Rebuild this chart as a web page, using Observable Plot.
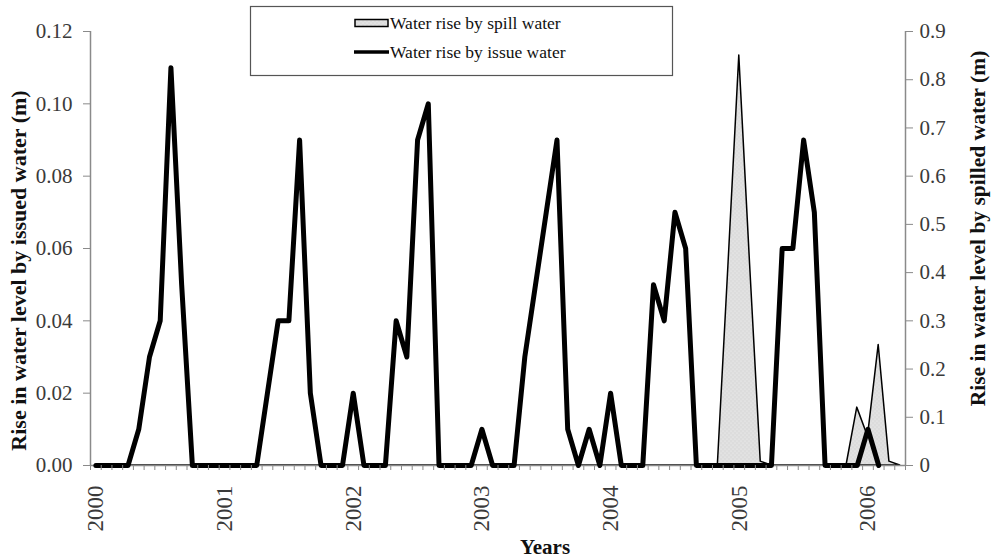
<!DOCTYPE html>
<html><head><meta charset="utf-8">
<script src="https://cdn.jsdelivr.net/npm/d3@7"></script>
<script src="https://cdn.jsdelivr.net/npm/@observablehq/plot@0.6"></script>
<style>body{margin:0;background:#fff} svg{font-family:"Liberation Serif",serif;background:#fff}</style>
</head><body><div id="chart"></div>
<script>
// Monthly data, Jan 2000 .. Apr 2006
const yearLabels = ["2000","2001","2002","2003","2004","2005","2006"];
// Rise in water level by issued water (m), left axis (Jan 2000 .. Feb 2006)
const issue = [
  0,0,0,0,0.01,0.03,0.04,0.11,0.05,0,0,0,
  0,0,0,0,0.02,0.04,0.04,0.09,0.02,0,0,0,
  0.02,0,0,0,0.04,0.03,0.09,0.10,0,0,0,0,
  0.01,0,0,0,0.03,0.05,0.07,0.09,0.01,0,0.01,0,
  0.02,0,0,0,0.05,0.04,0.07,0.06,0,0,0,0,
  0,0,0,0,0.06,0.06,0.09,0.07,0,0,0,0,
  0.01,0
];
// Rise in water level by spilled water (m), right axis (Jan 2000 .. Apr 2006)
const spill = [
  0,0,0,0,0,0,0,0,0,0,0,0,
  0,0,0,0,0,0,0,0,0,0,0,0,
  0,0,0,0,0,0,0,0,0,0,0,0,
  0,0,0,0,0,0,0,0,0,0,0,0,
  0,0,0,0,0,0,0,0,0,0,0,0.42,
  0.85,0.42,0.008,0,0,0,0,0,0,0,0,0.12,
  0.06,0.25,0.008,0
];
const leftTicks = [0,0.02,0.04,0.06,0.08,0.10,0.12];
const rightTicks = [0,0.1,0.2,0.3,0.4,0.5,0.6,0.7,0.8,0.9];
const rightLabels = ["0","0.1","0.2","0.3","0.4","0.5","0.6","0.7","0.8","0.9"];
const legendLabels = ["Water rise by spill water","Water rise by issue water"];
const xTitle = "Years";
const leftTitle = "Rise in water level by issued water (m)";
const rightTitle = "Rise in water level by spilled water (m)";

const K = 0.12 / 0.9; // maps right-axis values onto left-axis scale
const issueRows = issue.map((v, i) => ({i, v}));
const spillRows = spill.map((v, i) => ({i, v: v * K}));
const n = spill.length;
const boundaries = d3.range(n + 1).map(i => i - 0.5);
const yearIdx = yearLabels.map((_, k) => k * 12);

const axisGray = "#8a8a8a";
const textGray = "#3a3a3a";
const serif = "Liberation Serif";

const svg = Plot.plot({
  width: 993, height: 560,
  marginLeft: 90, marginRight: 88, marginTop: 31, marginBottom: 95,
  style: {fontFamily: serif, background: "#fff"},
  x: {domain: [-0.5, n - 0.5]},
  y: {domain: [0, 0.12]},
  marks: [
    Plot.areaY(spillRows, {x: "i", y: "v", fill: "url(#spillDots)", stroke: "#000", strokeWidth: 1.5}),
    Plot.ruleY([0], {stroke: axisGray, strokeWidth: 1.5}),
    Plot.ruleX([-0.5], {stroke: axisGray, strokeWidth: 1.5}),
    Plot.ruleX([n - 0.5], {stroke: axisGray, strokeWidth: 1.5}),
    Plot.lineY(issueRows, {x: "i", y: "v", stroke: "#000", strokeWidth: 5, strokeLinejoin: "round"}),
    Plot.axisX(boundaries, {anchor: "bottom", tickSize: 5, tickFormat: () => "", stroke: axisGray, label: null}),
    Plot.axisX(yearIdx, {anchor: "bottom", tickSize: 0, tickRotate: -90, tickPadding: 20,
      tickFormat: i => yearLabels[i / 12], fontSize: 23, fontFamily: serif, fill: textGray, label: null}),
    Plot.axisY(leftTicks, {anchor: "left", tickSize: 7, tickPadding: 11, tickFormat: d3.format(".2f"),
      fontSize: 21, fontFamily: serif, fill: textGray, stroke: axisGray, label: null}),
    Plot.axisY(rightTicks.map(v => v * K), {anchor: "right", tickSize: 7, tickPadding: 7,
      tickFormat: d => rightLabels[Math.round(d / K * 10)], fontSize: 21, fontFamily: serif, fill: textGray, stroke: axisGray, label: null}),
    Plot.text([xTitle], {frameAnchor: "bottom", dx: 47, dy: 88, fontSize: 21, fontWeight: "bold", fontFamily: serif, fill: "#111"}),
    Plot.text([leftTitle], {frameAnchor: "left", rotate: -90, textAnchor: "middle", dx: -72, dy: 22, fontSize: 22, fontWeight: "bold", fontFamily: serif, fill: "#111"}),
    Plot.text([rightTitle], {frameAnchor: "right", rotate: -90, textAnchor: "middle", dx: 73, dy: -20, fontSize: 21.5, fontWeight: "bold", fontFamily: serif, fill: "#111"})
  ]
});

// dotted fill pattern for the spill area
const s = d3.select(svg);
const defs = s.insert("defs", ":first-child");
const pat = defs.append("pattern").attr("id", "spillDots").attr("patternUnits", "userSpaceOnUse")
  .attr("width", 4).attr("height", 4);
pat.append("rect").attr("width", 4).attr("height", 4).attr("fill", "#dcdcdc");
pat.append("circle").attr("cx", 1).attr("cy", 1).attr("r", 0.6).attr("fill", "#f4f4f4");
pat.append("circle").attr("cx", 3).attr("cy", 3).attr("r", 0.6).attr("fill", "#f4f4f4");

// legend box
const lg = s.append("g").attr("font-family", serif).attr("text-anchor", "start");
lg.append("rect").attr("x", 250.5).attr("y", 6.5).attr("width", 422).attr("height", 69)
  .attr("fill", "#fff").attr("stroke", "#555").attr("stroke-width", 1.2);
lg.append("rect").attr("x", 355).attr("y", 19.5).attr("width", 33).attr("height", 7)
  .attr("fill", "url(#spillDots)").attr("stroke", "#000").attr("stroke-width", 1.5);
lg.append("line").attr("x1", 354).attr("x2", 389).attr("y1", 52).attr("y2", 52)
  .attr("stroke", "#000").attr("stroke-width", 3.5);
lg.selectAll("text.lab").data(legendLabels).join("text").attr("class", "lab")
  .attr("x", 390).attr("y", (d, k) => 23 + k * 29).attr("dy", "0.35em")
  .attr("text-anchor", "start")
  .attr("font-size", 17.5).attr("fill", "#111").text(d => d);

document.getElementById("chart").appendChild(svg);
</script>
</body></html>
